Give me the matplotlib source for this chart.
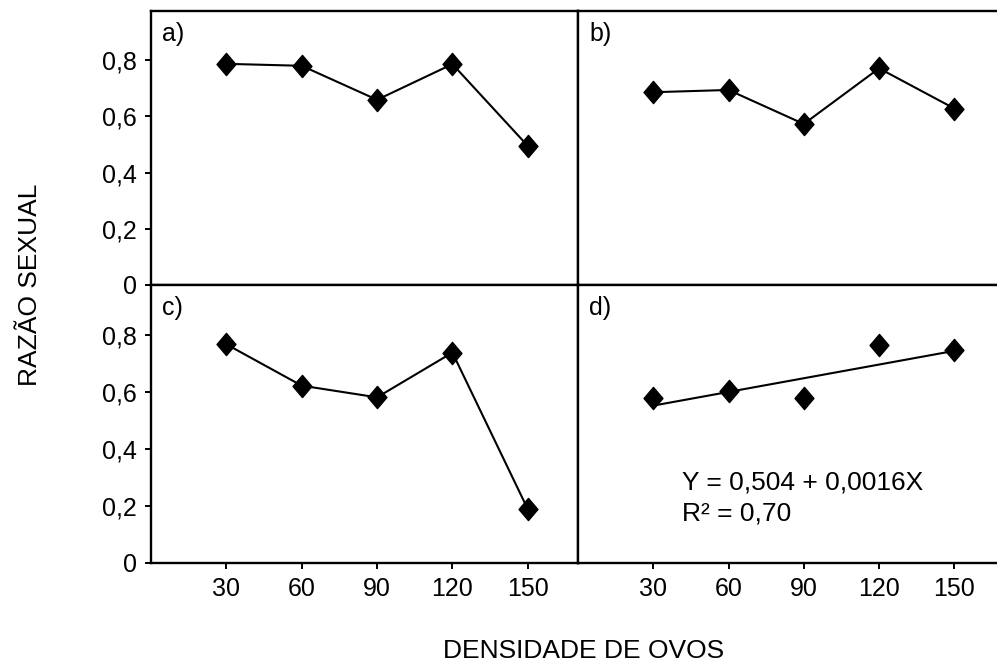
import numpy as np
import matplotlib
matplotlib.use("Agg")
import matplotlib.pyplot as plt
from matplotlib.path import Path
from matplotlib.ticker import FuncFormatter

plt.rcParams['font.family'] = ['Liberation Sans', 'DejaVu Sans']

densidade = [30, 60, 90, 120, 150]
razao_a = [0.787, 0.780, 0.659, 0.786, 0.495]
razao_b = [0.686, 0.694, 0.573, 0.771, 0.628]
razao_c = [0.767, 0.622, 0.581, 0.738, 0.189]
razao_d = [0.578, 0.603, 0.577, 0.766, 0.746]
# regressão do painel d)
intercepto = 0.504
inclinacao = 0.0016

yticks = [0, 0.2, 0.4, 0.6, 0.8]
xticks = [30, 60, 90, 120, 150]

W, H = 997, 664
fig = plt.figure(figsize=(W / 100, H / 100), dpi=100)

# diamante um pouco mais alto que largo
diamante = Path([(0, 1), (0.85, 0), (0, -1), (-0.85, 0), (0, 1)],
                [Path.MOVETO, Path.LINETO, Path.LINETO, Path.LINETO, Path.CLOSEPOLY])


def px(x0, y0, x1, y1):
    return [x0 / W, 1 - y1 / H, (x1 - x0) / W, (y1 - y0) / H]


fmt = FuncFormatter(lambda v, p: '0' if v == 0 else f'{v:.1f}'.replace('.', ','))

paineis = [
    ('a)', razao_a, px(151, 11, 578, 285), 170, True, False, True),
    ('b)', razao_b, px(578, 11, 997, 285), 167, False, False, True),
    ('c)', razao_c, px(151, 285, 578, 563), 170, True, True, True),
    ('d)', razao_d, px(578, 285, 997, 563), 167, False, True, False),
]

for letra, valores, pos, xmax, esq, baixo, ligar in paineis:
    ax = fig.add_axes(pos)
    ax.set_xlim(0, xmax)
    ax.set_ylim(0, 0.975)
    for s in ax.spines.values():
        s.set_linewidth(1.7)
    if xmax < 170:
        ax.spines['right'].set_visible(False)
    ax.tick_params(direction='out', length=4, width=1.4, labelsize=18, pad=6)
    ax.set_yticks(yticks)
    ax.yaxis.set_major_formatter(fmt)
    if not esq:
        ax.tick_params(axis='y', left=False, labelleft=False)
    ax.set_xticks(xticks)
    if not baixo:
        ax.tick_params(axis='x', bottom=False, labelbottom=False)
    ax.plot(densidade, valores, color='black', lw=1.5,
            ls='-' if ligar else 'none',
            marker=diamante, markersize=16, markerfacecolor='black',
            markeredgecolor='black', clip_on=False)
    if not ligar:
        xs = np.array([densidade[0], densidade[-1]])
        ax.plot(xs, intercepto + inclinacao * xs, color='black', lw=1.5)
        ax.text(41.5, 0.284, 'Y = 0,504 + 0,0016X', fontsize=19, ha='left', va='center')
        ax.text(41.5, 0.175, 'R² = 0,70', fontsize=19, ha='left', va='center')
    ax.text(11 / pos[2] / W, 1 - 23 / (pos[3] * H), letra, transform=ax.transAxes,
            fontsize=18, ha='left', va='center')

fig.text(0.03, 1 - 285 / H, 'RAZÃO SEXUAL', rotation=90, fontsize=19,
         ha='center', va='center')
fig.text(584 / W, 1 - 651 / H, 'DENSIDADE DE OVOS', fontsize=19,
         ha='center', va='center')

fig.savefig('out.png', dpi=100)
